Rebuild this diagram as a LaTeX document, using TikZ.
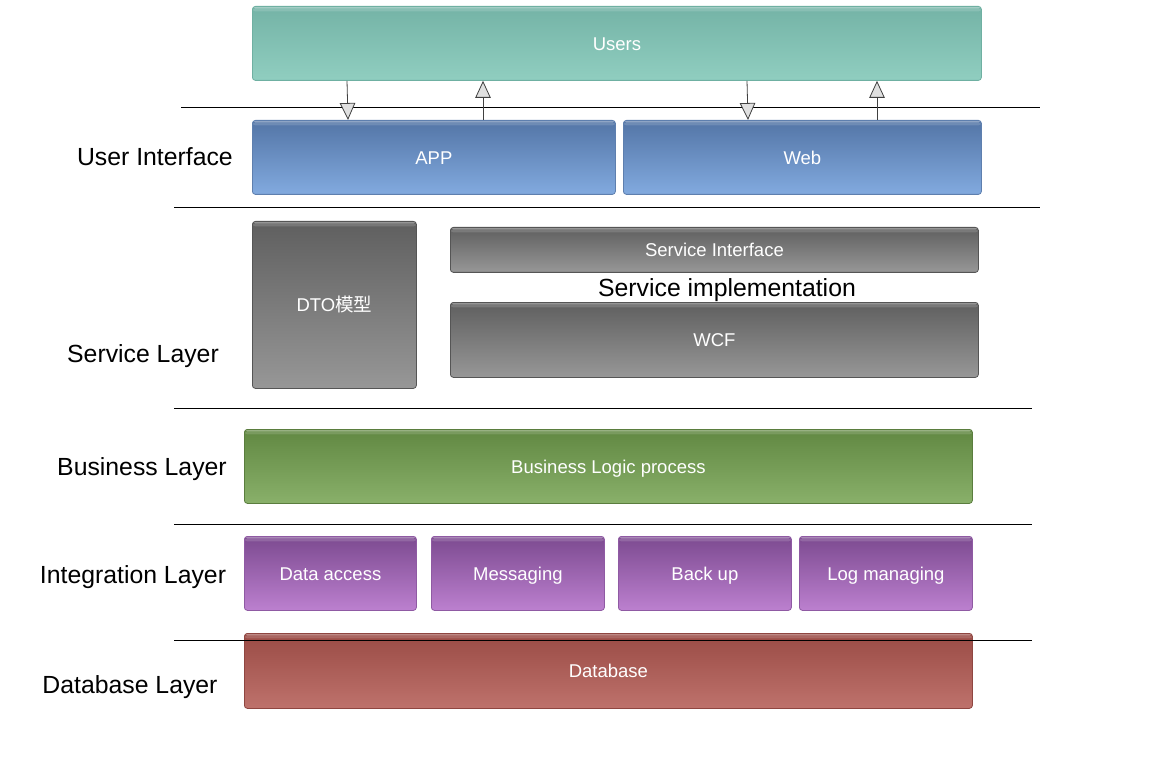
\documentclass[tikz,border=0pt]{standalone}
\usepackage{fontspec}
\setmainfont{Liberation Sans}
\newfontfamily\cjk{Noto Sans CJK SC}
\usetikzlibrary{arrows.meta}
\definecolor{usT}{HTML}{74B3A6}\definecolor{usB}{HTML}{90CEC0}\definecolor{usD}{HTML}{6FB0A2}
\definecolor{uiT}{HTML}{5375A6}\definecolor{uiB}{HTML}{82AADF}\definecolor{uiD}{HTML}{5E7FAE}
\definecolor{gyT}{HTML}{5F5F5F}\definecolor{gyB}{HTML}{979797}\definecolor{gyD}{HTML}{555555}
\definecolor{gnT}{HTML}{618842}\definecolor{gnB}{HTML}{89B06A}\definecolor{gnD}{HTML}{5A7D3E}
\definecolor{puT}{HTML}{7C4A90}\definecolor{puB}{HTML}{BC80CF}\definecolor{puD}{HTML}{8F5AA3}
\definecolor{rdT}{HTML}{9A4B45}\definecolor{rdB}{HTML}{BE726C}\definecolor{rdD}{HTML}{8F4641}
\begin{document}
\begin{tikzpicture}[x=1pt,y=-1pt,
  boxbase/.style={rectangle, rounded corners=3pt, anchor=north west, inner sep=0pt,
    text=white, font=\fontsize{18.5}{22}\selectfont, line width=0.8pt,
    text height=13.3pt, text depth=0pt,
    path picture={
      \fill[white,opacity=0.35] (path picture bounding box.north west) rectangle ([yshift=-2pt]path picture bounding box.north east);
      \fill[white,opacity=0.15] ([yshift=-2pt]path picture bounding box.north west) rectangle ([yshift=-5pt]path picture bounding box.north east);}},
  usbox/.style={boxbase, draw=usD, top color=usT, bottom color=usB},
  uibox/.style={boxbase, draw=uiD, top color=uiT, bottom color=uiB},
  gybox/.style={boxbase, draw=gyD, top color=gyT, bottom color=gyB},
  gnbox/.style={boxbase, draw=gnD, top color=gnT, bottom color=gnB},
  pubox/.style={boxbase, draw=puD, top color=puT, bottom color=puB},
  rdbox/.style={boxbase, draw=rdD, top color=rdT, bottom color=rdB},
  layerlabel/.style={font=\fontsize{24.8}{28}\selectfont, inner sep=0pt, text height=17.8pt, text depth=0pt},
  sep/.style={line width=0.9pt, black},
  conn/.style={draw=black!75, line width=0.8pt, -{Triangle[length=17pt,width=15.5pt,fill=black!12]}}
]
\useasboundingbox (0,0) rectangle (1155,783);
% boxes
\node[usbox, minimum width=729pt, minimum height=74pt] (users) at (252,6) {Users};
\node[uibox, minimum width=363pt, minimum height=74pt] (app) at (252,120) {APP};
\node[uibox, minimum width=358pt, minimum height=74pt] (web) at (623,120) {Web};
\node[gybox, minimum width=164pt, minimum height=167pt] (dto) at (252,221) {DTO{\cjk 模型}};
\node[gybox, minimum width=528pt, minimum height=45pt] (si) at (450,227) {Service Interface};
\node[gybox, minimum width=528pt, minimum height=75pt] (wcf) at (450,302) {WCF};
\node[gnbox, minimum width=728pt, minimum height=74pt] (blp) at (244,429) {Business Logic process};
\node[pubox, minimum width=172pt, minimum height=74pt] (da) at (244,536) {Data access};
\node[pubox, minimum width=173pt, minimum height=74pt] (msg) at (431,536) {Messaging};
\node[pubox, minimum width=173pt, minimum height=74pt] (bk) at (618,536) {Back up};
\node[pubox, minimum width=173pt, minimum height=74pt] (log) at (799,536) {Log managing};
\node[rdbox, minimum width=728pt, minimum height=75pt] (db) at (244,633) {Database};
% labels
\node[layerlabel, anchor=east] (lui) at (233,157) {User Interface};
\node[layerlabel] (lsl) at (143,354) {Service Layer};
\node[layerlabel] (lbl) at (142,467) {Business Layer};
\node[layerlabel] (lil) at (133,575) {Integration Layer};
\node[layerlabel] (ldl) at (130,685) {Database Layer};
\node[layerlabel] (simpl) at (727,288) {Service implementation};
% separators
\draw[sep] (181,107) -- (1040,107);
\draw[sep] (174,207) -- (1040,207);
\draw[sep] (174,408) -- (1032,408);
\draw[sep] (174,524) -- (1032,524);
\draw[sep] (174,640) -- (1032,640);
% connectors
\draw[conn] ([xshift=95pt]users.south west) -- ([xshift=96pt]app.north west);
\draw[conn] ([xshift=231pt]app.north west) -- ([xshift=231pt]users.south west);
\draw[conn] ([xshift=495pt]users.south west) -- ([xshift=125pt]web.north west);
\draw[conn] ([xshift=254pt]web.north west) -- ([xshift=625pt]users.south west);
\end{tikzpicture}
\end{document}
